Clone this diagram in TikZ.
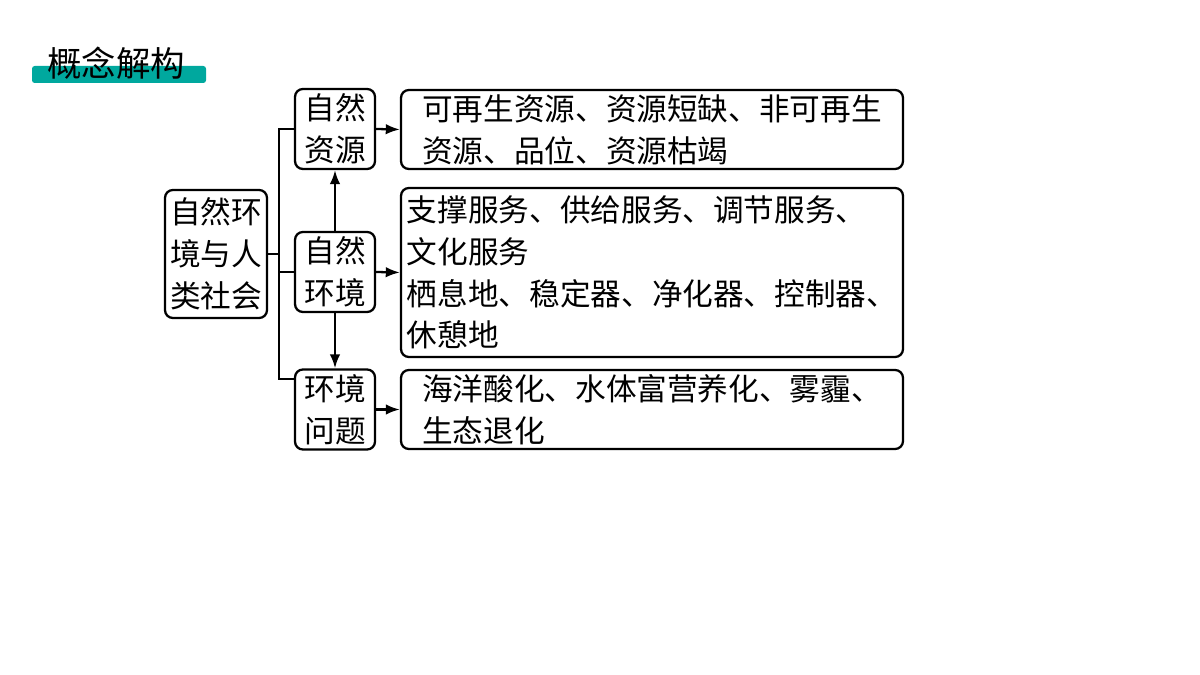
\documentclass[tikz,border=0pt]{standalone}
\usepackage{fontspec}
\newfontfamily\cjk{Noto Sans CJK SC}
\usepackage{tikz}
\usetikzlibrary{arrows.meta}
\definecolor{titleteal}{RGB}{0,168,158}
\tikzset{
  box/.style={draw, line width=1.3pt, rounded corners=4.5pt, inner sep=0pt, align=left,
    font=\cjk\fontsize{17.45pt}{23.8pt}\selectfont},
  link/.style={line width=1.3pt},
  arr/.style={line width=1.3pt, -{Latex[length=8pt,width=6pt]}}
}

\begin{document}
\begin{tikzpicture}[x=0.02cm,y=-0.02cm]
\useasboundingbox (0,0) rectangle (1200,675);
\fill[titleteal, rounded corners=1.5pt] (32,66) rectangle (206,83);
\node[font=\cjk\fontsize{19.6pt}{22pt}\selectfont] (title) at (116,63) {概念解构};

\node[box, minimum width=102*0.02cm, minimum height=128*0.02cm, align=center] (root) at (216,254) {自然环\\境与人\\类社会};

\node[box, minimum width=80*0.02cm, minimum height=80*0.02cm, align=center] (res) at (335,129) {自然\\资源};
\node[box, minimum width=80*0.02cm, minimum height=80*0.02cm, align=center] (env) at (335,272) {自然\\环境};
\node[box, minimum width=80*0.02cm, minimum height=80*0.02cm, align=center] (prob) at (335,409.5) {环境\\问题};

\node[box, minimum width=502*0.02cm, minimum height=79*0.02cm] (resbox) at (652,129.5) {可再生资源、资源短缺、非可再生\\资源、品位、资源枯竭};
\node[box, minimum width=502*0.02cm, minimum height=169*0.02cm] (envbox) at (652,272.5) {支撑服务、供给服务、调节服务、\\文化服务\\栖息地、稳定器、净化器、控制器、\\休憩地};
\node[box, minimum width=502*0.02cm, minimum height=79*0.02cm] (probbox) at (652,409.5) {海洋酸化、水体富营养化、雾霾、\\生态退化};

\coordinate (fork) at (279,254);
\coordinate (probin) at ([yshift=0.61cm]prob.west);
\draw[link] (root.east) -- (fork);
\draw[link] (res.west) -| (fork) |- (probin);
\draw[link] (fork) |- (env.west);

\draw[arr] (res.east) -- (resbox.west);
\draw[arr] (env.east) -- (envbox.west);
\draw[arr] (prob.east) -- (probbox.west);
\draw[arr] (env.north) -- (res.south);
\draw[arr] (env.south) -- (prob.north);
\end{tikzpicture}
\end{document}
